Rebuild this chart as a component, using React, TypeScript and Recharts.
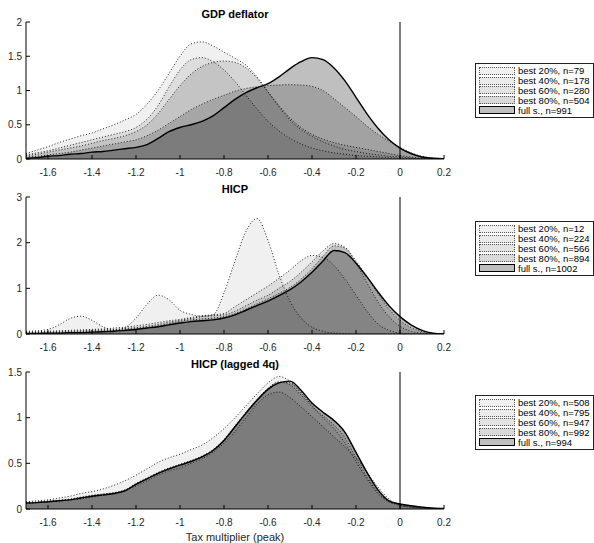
import { AreaChart, Area, XAxis, YAxis, ReferenceLine } from 'recharts'

// x grid of the kernel densities (tax multiplier, peak)
const X = [
  -1.7, -1.65, -1.6, -1.55, -1.5, -1.45, -1.4, -1.35, -1.3, -1.25,
  -1.2, -1.15, -1.1, -1.05, -1.0, -0.95, -0.9, -0.85, -0.8, -0.75,
  -0.7, -0.65, -0.6, -0.55, -0.5, -0.45, -0.4, -0.35, -0.3, -0.25,
  -0.2, -0.15, -0.1, -0.05, 0, 0.05, 0.1, 0.15, 0.2,
]
const X_TICKS = [-1.6, -1.4, -1.2, -1, -0.8, -0.6, -0.4, -0.2, 0, 0.2]

// GDP deflator
const GDP_B20 = [0.08, 0.13, 0.18, 0.24, 0.29, 0.34, 0.38, 0.44, 0.5, 0.57, 0.65, 0.8, 1.0, 1.25, 1.5, 1.68, 1.71, 1.65, 1.56, 1.47, 1.37, 1.2, 0.98, 0.76, 0.57, 0.43, 0.33, 0.25, 0.19, 0.14, 0.11, 0.08, 0.06, 0.04, 0.03, 0.015, 0.005, 0, 0]
const GDP_B40 = [0.06, 0.09, 0.12, 0.16, 0.2, 0.24, 0.28, 0.32, 0.36, 0.4, 0.46, 0.58, 0.78, 1.05, 1.3, 1.45, 1.48, 1.42, 1.3, 1.13, 0.93, 0.73, 0.55, 0.41, 0.3, 0.22, 0.16, 0.12, 0.09, 0.07, 0.05, 0.04, 0.03, 0.02, 0.01, 0.005, 0, 0, 0]
const GDP_B60 = [0.05, 0.07, 0.1, 0.13, 0.16, 0.19, 0.23, 0.27, 0.3, 0.34, 0.4, 0.5, 0.66, 0.87, 1.07, 1.24, 1.35, 1.41, 1.43, 1.41, 1.33, 1.18, 0.98, 0.78, 0.6, 0.46, 0.36, 0.29, 0.24, 0.2, 0.17, 0.14, 0.11, 0.08, 0.05, 0.03, 0.01, 0.005, 0]
const GDP_B80 = [0.03, 0.04, 0.06, 0.08, 0.1, 0.13, 0.16, 0.19, 0.22, 0.25, 0.28, 0.34, 0.42, 0.52, 0.62, 0.72, 0.8, 0.87, 0.93, 0.99, 1.03, 1.055, 1.07, 1.08, 1.085, 1.08, 1.06, 1.0, 0.88, 0.75, 0.62, 0.48, 0.36, 0.26, 0.17, 0.09, 0.04, 0.015, 0.005]
const GDP_FULL = [0.01, 0.02, 0.04, 0.05, 0.07, 0.08, 0.1, 0.11, 0.13, 0.15, 0.17, 0.21, 0.3, 0.4, 0.46, 0.5, 0.55, 0.63, 0.75, 0.87, 0.97, 1.04, 1.1, 1.2, 1.32, 1.42, 1.48, 1.45, 1.33, 1.14, 0.9, 0.66, 0.45, 0.28, 0.16, 0.08, 0.03, 0.01, 0.005]

// HICP
const HICP_B20 = [0.06, 0.07, 0.1, 0.2, 0.34, 0.39, 0.3, 0.16, 0.09, 0.14, 0.35, 0.65, 0.85, 0.75, 0.52, 0.43, 0.39, 0.42, 0.9, 1.6, 2.25, 2.53, 2.05, 1.3, 0.72, 0.35, 0.15, 0.06, 0.02, 0.01, 0, 0, 0, 0, 0, 0, 0, 0, 0]
const HICP_B40 = [0.04, 0.05, 0.06, 0.07, 0.08, 0.09, 0.1, 0.11, 0.13, 0.15, 0.18, 0.21, 0.25, 0.29, 0.32, 0.36, 0.4, 0.42, 0.45, 0.6, 0.75, 0.9, 1.05, 1.22, 1.4, 1.6, 1.72, 1.68, 1.5, 1.2, 0.85, 0.5, 0.22, 0.08, 0.02, 0.005, 0, 0, 0]
const HICP_B60 = [0.03, 0.03, 0.04, 0.05, 0.06, 0.07, 0.08, 0.09, 0.1, 0.12, 0.14, 0.17, 0.21, 0.26, 0.3, 0.34, 0.38, 0.4, 0.42, 0.5, 0.62, 0.74, 0.85, 1.0, 1.15, 1.35, 1.58, 1.82, 1.98, 1.9, 1.55, 1.12, 0.7, 0.38, 0.17, 0.06, 0.02, 0.005, 0]
const HICP_B80 = [0.02, 0.02, 0.03, 0.03, 0.04, 0.05, 0.06, 0.07, 0.08, 0.1, 0.12, 0.15, 0.18, 0.23, 0.28, 0.31, 0.33, 0.35, 0.38, 0.45, 0.55, 0.66, 0.77, 0.89, 1.02, 1.2, 1.43, 1.7, 1.93, 1.88, 1.6, 1.25, 0.88, 0.55, 0.3, 0.14, 0.05, 0.01, 0]
const HICP_FULL = [0.01, 0.01, 0.02, 0.02, 0.03, 0.03, 0.04, 0.05, 0.06, 0.08, 0.1, 0.13, 0.16, 0.2, 0.24, 0.27, 0.29, 0.31, 0.35, 0.42, 0.52, 0.62, 0.72, 0.84, 0.97, 1.14, 1.35, 1.6, 1.83, 1.78, 1.55, 1.25, 0.92, 0.62, 0.38, 0.2, 0.08, 0.02, 0.005]

// HICP (lagged 4q)
const LAG_B20 = [0.08, 0.09, 0.1, 0.12, 0.14, 0.17, 0.19, 0.22, 0.26, 0.31, 0.37, 0.44, 0.51, 0.56, 0.6, 0.65, 0.7, 0.78, 0.88, 1.0, 1.13, 1.26, 1.38, 1.45, 1.4, 1.28, 1.13, 1.0, 0.88, 0.72, 0.52, 0.33, 0.17, 0.08, 0.04, 0.02, 0.01, 0.005, 0]
const LAG_B40 = [0.06, 0.07, 0.08, 0.09, 0.1, 0.11, 0.13, 0.15, 0.17, 0.2, 0.25, 0.31, 0.37, 0.42, 0.45, 0.5, 0.55, 0.62, 0.72, 0.85, 1.0, 1.15, 1.25, 1.28, 1.22, 1.12, 1.01, 0.9, 0.79, 0.68, 0.56, 0.4, 0.24, 0.11, 0.04, 0.02, 0.01, 0.005, 0]
const LAG_B60 = [0.07, 0.075, 0.085, 0.095, 0.11, 0.13, 0.15, 0.165, 0.18, 0.21, 0.28, 0.34, 0.4, 0.45, 0.49, 0.53, 0.58, 0.65, 0.76, 0.91, 1.06, 1.2, 1.32, 1.39, 1.36, 1.25, 1.12, 1.02, 0.92, 0.78, 0.56, 0.35, 0.18, 0.08, 0.05, 0.03, 0.02, 0.01, 0.005]
const LAG_B80 = [0.07, 0.075, 0.085, 0.095, 0.105, 0.125, 0.145, 0.16, 0.175, 0.205, 0.275, 0.335, 0.395, 0.445, 0.485, 0.525, 0.575, 0.645, 0.755, 0.905, 1.055, 1.195, 1.32, 1.39, 1.38, 1.27, 1.15, 1.06, 0.96, 0.83, 0.61, 0.39, 0.2, 0.085, 0.055, 0.035, 0.02, 0.01, 0.005]
const LAG_FULL = [0.065, 0.07, 0.08, 0.09, 0.1, 0.12, 0.14, 0.155, 0.17, 0.2, 0.27, 0.33, 0.39, 0.44, 0.48, 0.52, 0.57, 0.64, 0.75, 0.9, 1.05, 1.19, 1.31, 1.38, 1.4, 1.3, 1.16, 1.06, 0.97, 0.84, 0.62, 0.4, 0.21, 0.09, 0.055, 0.035, 0.02, 0.01, 0.005]

const GDP_LABELS = ['best 20%, n=79', 'best 40%, n=178', 'best 60%, n=280', 'best 80%, n=504', 'full s., n=991']
const HICP_LABELS = ['best 20%, n=12', 'best 40%, n=224', 'best 60%, n=566', 'best 80%, n=894', 'full s., n=1002']
const LAG_LABELS = ['best 20%, n=508', 'best 40%, n=795', 'best 60%, n=947', 'best 80%, n=992', 'full s., n=994']

const KEYS = ['b20', 'b40', 'b60', 'b80', 'full']
const OPACITY = [0.06, 0.08, 0.11, 0.15, 0.25]
const FONT = '"Liberation Sans", Arial, sans-serif'
const TXT = '#262626'

const build = (series: number[][]) =>
  X.map((x, i) => {
    const row: Record<string, number> = { x }
    KEYS.forEach((k, j) => { row[k] = series[j][i] })
    return row
  })

const XTick = ({ x, y, payload }: any) => (
  <g>
    <line x1={x} x2={x} y1={y} y2={y - 4} stroke="#000" strokeWidth={1} />
    <text x={x} y={y + 17} textAnchor="middle" fontSize={10} fontFamily={FONT} fill={TXT}>
      {String(payload.value)}
    </text>
  </g>
)

const YTick = ({ x, y, payload }: any) => (
  <g>
    <line x1={x} x2={x + 4} y1={y} y2={y} stroke="#000" strokeWidth={1} />
    <text x={x - 4} y={y + 3.5} textAnchor="end" fontSize={10} fontFamily={FONT} fill={TXT}>
      {String(payload.value)}
    </text>
  </g>
)

function Panel({ top, title, series, yMax, yTicks }: {
  top: number, title: string, series: number[][], yMax: number, yTicks: number[]
}) {
  const data = build(series)
  return (
    <div style={{ position: 'absolute', left: 0, top, width: 470, height: 190 }}>
      <div style={{
        position: 'absolute', left: 26, width: 418, top: 8, textAlign: 'center',
        fontFamily: FONT, fontSize: 11, fontWeight: 'bold', lineHeight: '12px', color: '#000',
      }}>{title}</div>
      <AreaChart width={470} height={190} data={data} margin={{ top: 22, right: 26, bottom: 0, left: 0 }}>
        <XAxis
          dataKey="x" type="number" domain={[-1.7, 0.2]} ticks={X_TICKS} allowDataOverflow
          height={31} tickSize={0} tickMargin={0} tick={<XTick />} interval={0}
          axisLine={{ stroke: '#000', strokeWidth: 1 }}
        />
        <YAxis
          type="number" domain={[0, yMax]} ticks={yTicks} allowDataOverflow
          width={26} tickSize={0} tickMargin={0} tick={<YTick />} interval={0}
          axisLine={{ stroke: '#000', strokeWidth: 1 }}
        />
        {KEYS.map((k, j) => (
          <Area
            key={k}
            dataKey={k}
            type="monotone"
            fill="#000"
            fillOpacity={OPACITY[j]}
            stroke={j === 4 ? '#000' : '#222'}
            strokeWidth={j === 4 ? 1.4 : 1}
            strokeDasharray={j === 4 ? undefined : '1 2'}
            isAnimationActive={false}
            dot={false}
            activeDot={false}
          />
        ))}
        <ReferenceLine x={0} stroke="#000" strokeWidth={1} />
      </AreaChart>
    </div>
  )
}

function Legend({ top, labels }: { top: number, labels: string[] }) {
  return (
    <div style={{
      position: 'absolute', left: 475, top, width: 117, padding: '2px 0 2px 0',
      border: '1px solid #222', background: '#fff', fontFamily: FONT, fontSize: 9.5, color: '#000',
    }}>
      {labels.map((l, j) => (
        <div key={l} style={{ display: 'flex', alignItems: 'center', height: 9.8 }}>
          <span style={{
            display: 'inline-block', boxSizing: 'border-box', width: 36, height: 8, marginLeft: 3, marginRight: 3,
            background: `rgba(0,0,0,${OPACITY[j]})`,
            border: j === 4 ? '1.5px solid #000' : '1px dotted #555',
          }} />
          <span style={{ whiteSpace: 'nowrap', lineHeight: '9px' }}>{l}</span>
        </div>
      ))}
    </div>
  )
}

export default function App() {
  return (
    <div style={{ position: 'absolute', left: 0, top: 0, width: 594, height: 543, background: '#fff', overflow: 'hidden' }}>
      <Panel top={0} title="GDP deflator" series={[GDP_B20, GDP_B40, GDP_B60, GDP_B80, GDP_FULL]} yMax={2} yTicks={[0, 0.5, 1, 1.5, 2]} />
      <Panel top={175} title="HICP" series={[HICP_B20, HICP_B40, HICP_B60, HICP_B80, HICP_FULL]} yMax={3} yTicks={[0, 1, 2, 3]} />
      <Panel top={350} title="HICP (lagged 4q)" series={[LAG_B20, LAG_B40, LAG_B60, LAG_B80, LAG_FULL]} yMax={1.5} yTicks={[0, 0.5, 1, 1.5]} />
      <div style={{
        position: 'absolute', left: 26, width: 418, top: 531, textAlign: 'center',
        fontFamily: FONT, fontSize: 11, lineHeight: '12px', color: TXT,
      }}>Tax multiplier (peak)</div>
      <Legend top={63} labels={GDP_LABELS} />
      <Legend top={221} labels={HICP_LABELS} />
      <Legend top={395} labels={LAG_LABELS} />
    </div>
  )
}
